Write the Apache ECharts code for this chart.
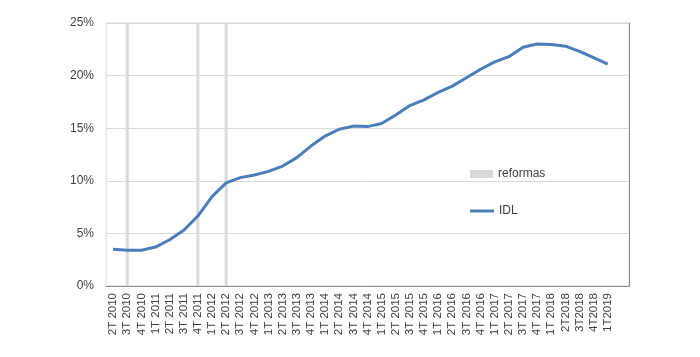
<!DOCTYPE html>
<html><head><meta charset="utf-8">
<script src="https://cdn.jsdelivr.net/npm/echarts@6/dist/echarts.min.js"></script>
<style>html,body{margin:0;padding:0;background:#fff}#c{width:700px;height:357px}</style>
</head><body><div id="c"></div>
<script>
var categories = ['2T 2010','3T 2010','4T 2010','1T 2011','2T 2011','3T 2011','4T 2011','1T 2012','2T 2012','3T 2012','4T 2012','1T 2013','2T 2013','3T 2013','4T 2013','1T 2014','2T 2014','3T 2014','4T 2014','1T 2015','2T 2015','3T 2015','4T 2015','1T 2016','2T 2016','3T 2016','4T 2016','1T 2017','2T 2017','3T 2017','4T 2017','1T 2018','2T2018','3T2018','4T2018','1T2019',''];
var idl = [3.5,3.4,3.4,3.7,4.4,5.3,6.65,8.5,9.8,10.3,10.55,10.9,11.4,12.2,13.3,14.25,14.9,15.2,15.15,15.45,16.25,17.15,17.7,18.4,19.0,19.8,20.6,21.3,21.8,22.7,23.0,22.95,22.8,22.3,21.7,21.1,null];
var reformas = [null,25,null,null,null,null,25,null,25,null,null,null,null,null,null,null,null,null,null,null,null,null,null,null,null,null,null,null,null,null,null,null,null,null,null,null,null];
var yTicks = {min:0, max:25, interval:5};

var chart = echarts.init(document.getElementById('c'));
var font = 'Liberation Sans';
var legText = {color:'#404040',fontSize:12,fontFamily:font};
chart.setOption({
  animation:false,
  backgroundColor:'#fff',
  textStyle:{fontFamily:font},
  grid:{left:106,right:71,top:23,bottom:71,show:true,borderColor:'#d9d9d9',borderWidth:1},
  legend:[
    {orient:'vertical',left:465,top:163,itemWidth:23,itemHeight:8,textStyle:legText,
      data:[{name:'reformas',icon:'rect'}]},
    {orient:'vertical',left:465,top:200,itemWidth:24,itemHeight:3,textStyle:legText,
      data:[{name:'IDL',icon:'rect'}]}
  ],
  xAxis:{type:'category',data:categories,boundaryGap:true,
    axisLine:{show:true,lineStyle:{color:'#8c8c8c',width:1}},
    axisTick:{show:false},
    splitLine:{show:false},
    axisLabel:{rotate:90,interval:0,margin:7,color:'#404040',fontSize:11.5,fontFamily:font}},
  yAxis:[{type:'value',min:yTicks.min,max:yTicks.max,interval:yTicks.interval,
    axisLine:{show:false},axisTick:{show:false},
    splitLine:{lineStyle:{color:'#d9d9d9',width:1}},
    axisLabel:{formatter:'{value}%',color:'#404040',fontSize:12,margin:12,fontFamily:font}},
    {type:'value',position:'right',min:yTicks.min,max:yTicks.max,interval:yTicks.interval,
    axisLine:{show:true,lineStyle:{color:'#8c8c8c'}},axisTick:{show:false},axisLabel:{show:false},splitLine:{show:false}}],
  series:[
    {name:'reformas',type:'bar',data:reformas,barWidth:3,itemStyle:{color:'#d9d9d9'},z:1},
    {name:'IDL',type:'line',data:idl,symbol:'none',smooth:false,z:3,
      lineStyle:{color:'#4a7ebb',width:3},itemStyle:{color:'#4a7ebb'}}
  ]
});
</script></body></html>
